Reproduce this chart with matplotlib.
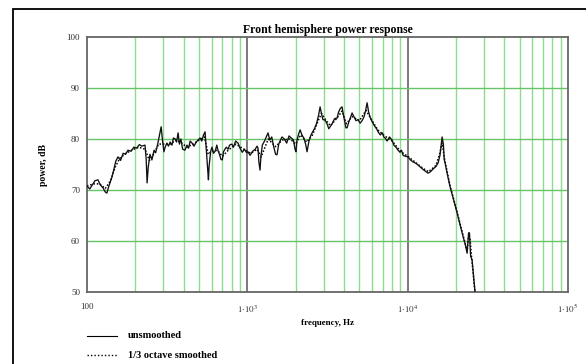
import matplotlib
matplotlib.use("Agg")
import matplotlib.pyplot as plt
from matplotlib.lines import Line2D
from matplotlib.patches import Rectangle
from matplotlib.ticker import FixedLocator, NullFormatter

# unsmoothed measurement (Hz, dB)
freq_raw = [100, 104, 108, 112, 117, 121, 126, 130, 133, 137, 143, 147, 151, 156, 162, 168, 174, 180, 188, 196,
            204, 212, 220, 230, 234, 237, 241, 247, 254, 262, 268, 276, 282, 290, 296, 302, 307, 315, 322, 330,
            339, 346, 355, 362, 370, 377, 385, 395, 408, 420, 430, 440, 452, 465, 480, 493, 507, 520, 533, 545,
            552, 560, 566, 572, 577, 590, 602, 615, 630, 645, 656, 670, 685, 698, 710, 725, 740, 758, 775, 800,
            820, 845, 875, 900, 930, 960, 990, 1010,
            1040, 1080, 1120, 1150, 1166, 1180, 1200, 1215, 1240, 1280, 1320, 1346, 1380, 1420, 1460, 1500, 1531,
            1570, 1610, 1645, 1700, 1760, 1820, 1880, 1940, 1984, 2010, 2041, 2090, 2133, 2190, 2250, 2310, 2357,
            2420, 2480, 2534, 2620, 2700, 2780, 2843, 2900, 2960, 3055, 3150, 3220, 3282, 3380, 3500, 3630, 3700,
            3800, 3899, 3960, 4050, 4120, 4190, 4300, 4400, 4501, 4620, 4760, 4900, 5050, 5200, 5350, 5470, 5585,
            5700, 5823, 6000, 6200, 6400, 6536, 6750, 6950, 7100, 7228, 7450, 7700, 7993, 8200, 8450, 8710, 8950,
            9150, 9360, 9700, 10050,
            10400, 10810, 11300, 11900, 12500, 13000, 13400, 13900, 14500, 15000, 15480, 15900, 16200, 16400,
            16700, 16900, 17110, 17700, 18390, 19300, 20330, 21200, 22180, 22800, 23490, 23700, 24000, 24300,
            24500, 24700, 25230, 25800, 26330, 26800]
db_raw = [70.8, 70.2, 71.0, 71.8, 72.0, 71.0, 70.4, 69.6, 69.4, 70.8, 72.5, 74.0, 75.6, 76.5, 75.8, 77.2, 77.0, 77.8, 77.6, 78.4,
          78.2, 78.9, 78.6, 78.8, 76.0, 71.4, 74.5, 77.0, 75.9, 77.8, 77.3, 79.0, 80.5, 82.4, 79.6, 77.5, 78.4, 79.2, 78.6, 79.4,
          78.8, 80.2, 80.0, 79.4, 81.2, 79.0, 80.0, 78.0, 77.8, 78.8, 78.2, 79.6, 79.2, 78.6, 79.4, 79.8, 80.2, 79.6, 80.8, 81.4,
          79.0, 76.0, 74.0, 72.0, 74.5, 77.5, 78.4, 77.2, 77.6, 78.8, 77.8, 77.0, 76.0, 75.9, 77.5, 78.0, 78.4, 78.0, 78.8, 79.0,
          78.4, 79.6, 79.2, 78.2, 77.4, 78.0, 77.3, 77.5,
          76.8, 77.6, 78.0, 78.6, 78.2, 75.5, 73.9, 76.5, 78.8, 79.6, 80.6, 81.2, 79.8, 80.4, 78.5, 77.0, 76.9,
          79.0, 79.8, 80.4, 80.0, 79.2, 80.6, 80.2, 79.8, 78.0, 77.5, 79.8, 81.0, 81.8, 80.8, 80.2, 79.0, 77.5,
          79.5, 80.6, 81.2, 82.0, 83.0, 84.6, 86.3, 85.0, 83.8, 83.7, 82.9, 82.0, 82.4, 83.0, 84.0, 84.1, 85.2,
          86.0, 86.3, 85.0, 83.4, 82.2, 82.2, 83.4, 84.2, 85.1, 84.4, 83.6, 83.8, 83.1, 83.6, 84.4, 85.6, 87.1,
          85.4, 84.3, 83.4, 82.6, 82.0, 81.4, 80.8, 81.2, 80.4, 80.2, 79.6, 80.4, 79.8, 78.8, 78.4, 77.8, 77.4,
          77.8, 76.8, 76.6, 76.5,
          75.9, 75.5, 75.2, 74.6, 74.0, 73.6, 73.3, 73.6, 74.2, 74.6, 75.3, 76.8, 79.0, 80.4,
          79.0, 76.0, 75.3, 73.0, 70.6, 68.2, 65.5, 63.2, 60.8, 59.5, 57.6, 59.5, 61.6, 61.6,
          59.0, 57.0, 56.3, 53.0, 49.8, 47.0]

# 1/3 octave smoothed (Hz, dB)
freq_smooth = [100, 110, 120, 130, 140, 150, 160, 175, 190, 210, 230, 245, 260, 280, 300, 330, 360, 390, 420, 460,
               500, 540, 570, 600, 650, 700, 760, 850, 950, 1050, 1150, 1220, 1350, 1500, 1650, 1850, 2000, 2150,
               2350, 2550, 2750, 2900, 3100, 3300, 3600, 3900, 4150, 4500, 5000, 5500, 5900, 6500, 7200, 8000,
               9000, 10000, 11000, 12500, 13500, 15000, 15800, 16400, 17000, 18400, 20300, 22200, 23500, 24000,
               24500, 25000, 26300, 26800]
db_smooth = [70.8, 71.2, 71.2, 70.3, 71.8, 74.5, 76.2, 77.2, 77.8, 78.4, 78.0, 75.8, 77.0, 79.0, 79.0, 79.0, 79.8, 79.2, 78.4, 79.0,
             79.8, 80.4, 77.0, 77.6, 77.8, 76.6, 77.8, 79.0, 78.0, 77.2, 78.0, 76.5, 80.0, 78.5, 79.8, 80.0, 79.0, 80.8,
             79.4, 80.8, 83.4, 85.0, 83.6, 82.6, 84.0, 85.5, 83.0, 84.4, 83.6, 85.6, 84.0, 81.8, 80.6, 79.6,
             77.6, 76.6, 75.6, 74.2, 73.6, 74.8, 77.0, 79.2, 76.0, 70.8, 65.8, 61.0, 58.0, 61.0,
             60.5, 57.0, 50.0, 47.0]

y_ticks = [50, 60, 70, 80, 90, 100]
x_ticks = [100, 1e3, 1e4, 1e5]
x_labels = ["100", r"$1{\cdot}10^{3}$", r"$1{\cdot}10^{4}$", r"$1{\cdot}10^{5}$"]

plt.rcParams['font.family'] = ['Liberation Serif', 'DejaVu Serif']
plt.rcParams['mathtext.fontset'] = 'stix'

W, H = 586, 364
fig = plt.figure(figsize=(W / 100, H / 100), dpi=100)
ax = fig.add_axes([87 / W, (H - 292) / H, (568 - 87) / W, (292 - 37) / H])

# outer frame, cut off at the right and bottom
fig.patches.append(Rectangle((13 / W, -0.1), 1.2, (H - 9) / H + 0.1, transform=fig.transFigure,
                             fill=False, edgecolor='black', linewidth=1.3))

green = '#8edc8e'
minors = [m * 10 ** e for e in (2, 3, 4) for m in range(2, 10)]
for f in minors:
    ax.axvline(f, color=green, lw=1.0, zorder=1)
for f in (1e3, 1e4):
    ax.axvline(f, color='#555555', lw=1.1, zorder=1)
for v in (60, 70, 80, 90):
    ax.axhline(v, color='#66c466', lw=1.0, zorder=1)

ax.plot(freq_smooth, db_smooth, color='black', lw=1.1, ls=(0, (1, 1.2)), zorder=3)
ax.plot(freq_raw, db_raw, color='#111111', lw=0.95, zorder=4)

ax.set_xscale('log')
ax.set_xlim(100, 1e5)
ax.set_ylim(50, 100)
ax.xaxis.set_major_locator(FixedLocator(x_ticks))
ax.xaxis.set_minor_formatter(NullFormatter())
ax.set_xticks(x_ticks, x_labels)
ax.set_yticks(y_ticks, [str(v) for v in y_ticks])
ax.tick_params(axis='both', which='both', length=0, labelsize=6.5, colors='#333333')
ax.tick_params(axis='x', pad=8)
ax.tick_params(axis='y', pad=5)
for s in ax.spines.values():
    s.set_color('#666666')
    s.set_linewidth(1.3)

ax.set_title('Front hemisphere power response', fontsize=8.5, fontweight='bold', pad=3)
ax.set_xlabel('frequency, Hz', fontsize=6.5, fontweight='bold', labelpad=3)
ax.set_ylabel('power, dB', fontsize=7, fontweight='bold', labelpad=13)

# legend under the plot
fig.lines.append(Line2D([87 / W, 117 / W], [1 - 336 / H] * 2, transform=fig.transFigure,
                        color='black', lw=0.8))
fig.lines.append(Line2D([87 / W, 117 / W], [1 - 355 / H] * 2, transform=fig.transFigure,
                        color='black', lw=1.0, ls=(0, (1, 1.5))))
fig.text(128 / W, 1 - 336 / H, 'unsmoothed', fontsize=7.5, fontweight='bold', va='center')
fig.text(128 / W, 1 - 355 / H, '1/3 octave smoothed', fontsize=7.5, fontweight='bold', va='center')

fig.savefig('out.png', dpi=100, facecolor='white')
